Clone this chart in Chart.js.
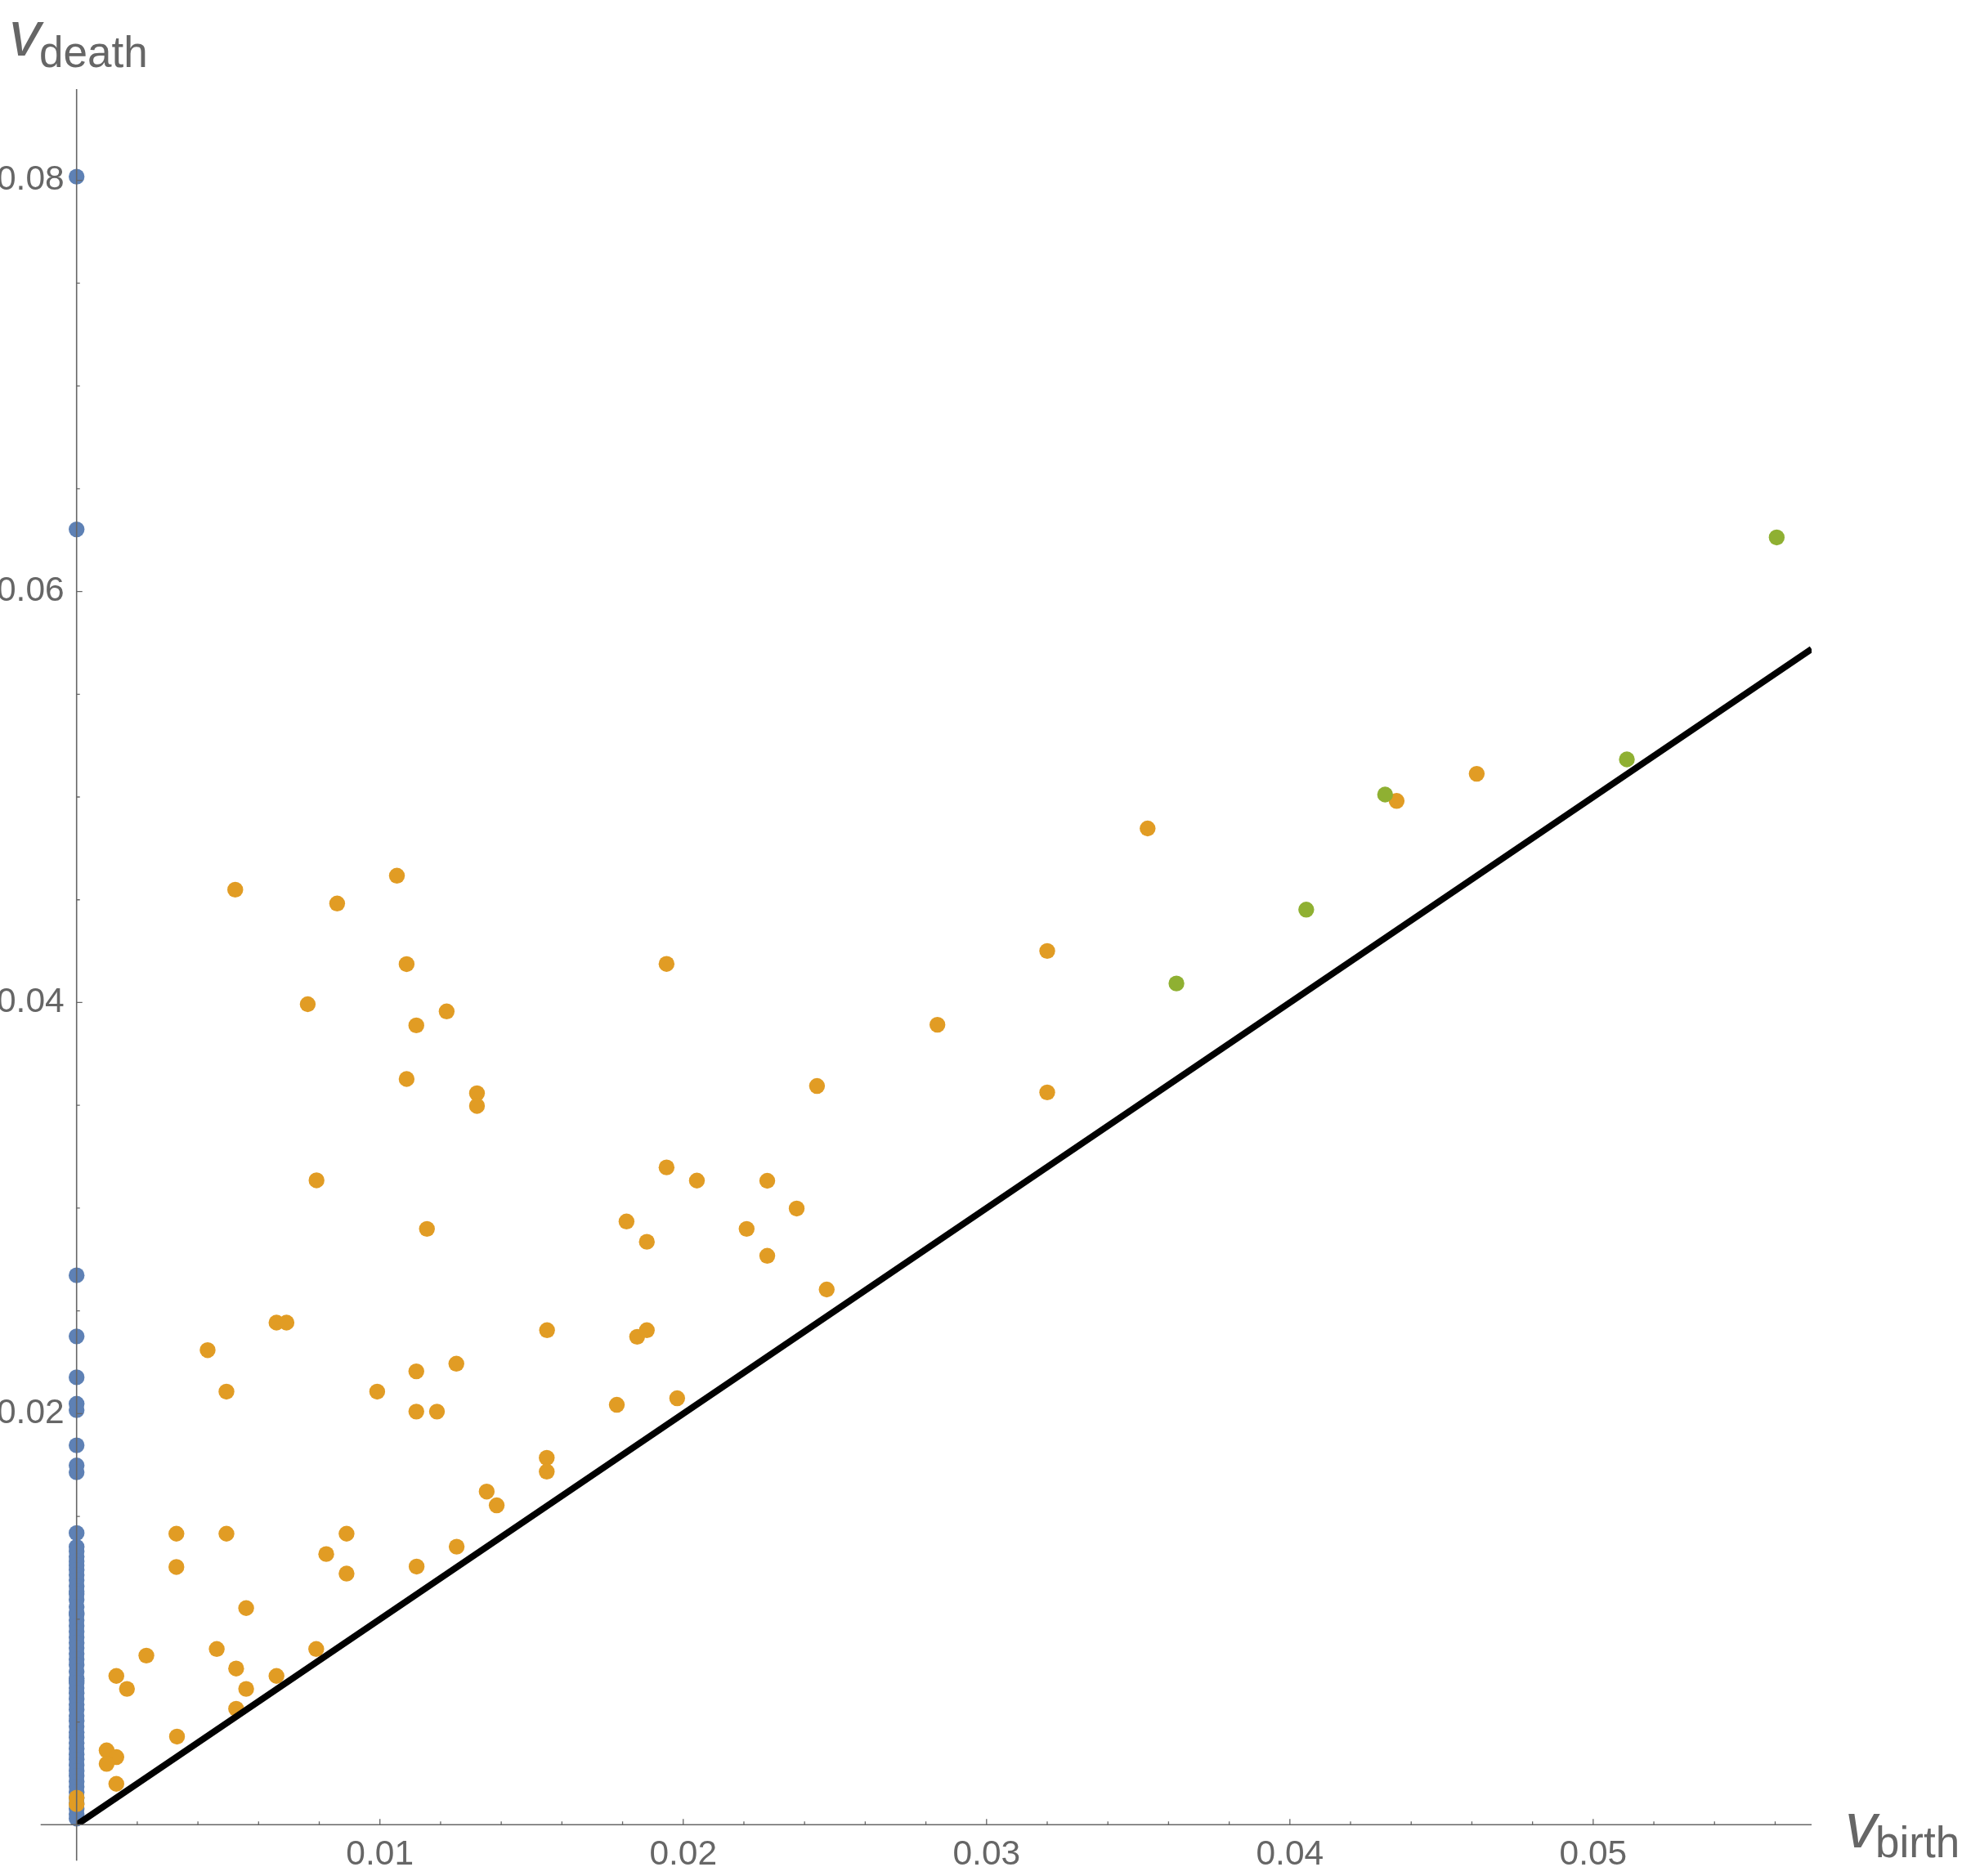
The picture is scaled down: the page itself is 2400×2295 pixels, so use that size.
<!DOCTYPE html>
<html>
<head>
<meta charset="utf-8">
<script src="https://cdn.jsdelivr.net/npm/chart.js@4/dist/chart.umd.min.js"></script>
<style>
  body { margin: 0; background: #fff; }
  #ctx { display: block; }
</style>
</head>
<body>
<canvas id="ctx" width="2400" height="2295"></canvas>
<script>

// persistence data (birth, death)

// dimension 0 : all born at 0
var blueY = [0.08018, 0.06302, 0.02673, 0.02376, 0.02177, 0.02048, 0.02017, 0.01846, 0.01748, 0.01715, 0.01419,
  0.01352, 0.01330, 0.01305, 0.01282, 0.01262, 0.01240, 0.01215, 0.01190, 0.01160, 0.01135, 0.01123, 0.01095,
  0.01060, 0.01030, 0.01022, 0.00995, 0.00968, 0.00940, 0.00912, 0.00885, 0.00860, 0.00832, 0.00805, 0.00778,
  0.00745, 0.00712, 0.00700, 0.00690, 0.00665, 0.00640, 0.00612, 0.00585, 0.00560, 0.00530, 0.00505, 0.00478,
  0.00450, 0.00425, 0.00398, 0.00370, 0.00342, 0.00318, 0.00290, 0.00262, 0.00238, 0.00210, 0.00185, 0.00158,
  0.00130, 0.00105, 0.00078, 0.00052, 0.00030];

// dimension 1
var orangeX = [0.00523, 0.00859, 0.01056, 0.01088, 0.00762, 0.01120, 0.01220, 0.01088, 0.01320, 0.01320,
  0.00791, 0.01155, 0.00659, 0.00692, 0.00432, 0.00494, 0.00991, 0.01120, 0.01252, 0.01120,
  0.01188, 0.00329, 0.00494, 0.00329, 0.00823, 0.00890, 0.00890, 0.00559, 0.01121, 0.01253,
  0.01352, 0.01385, 0.01550, 0.01550, 0.01551, 0.01781, 0.01980, 0.01848, 0.01880, 0.01813,
  0.01880, 0.01945, 0.02045, 0.02209, 0.02277, 0.02277, 0.02374, 0.02473, 0.02441, 0.01945,
  0.02838, 0.03200, 0.03200, 0.03531, 0.04352, 0.04616,
  0.00230, 0.00131, 0.00166, 0.00462, 0.00526, 0.00559, 0.00526, 0.00659, 0.00790, 0.00331,
  0.00099, 0.00131, 0.00099, 0.00131, 0, 0];
var orangeY = [0.04549, 0.04482, 0.04617, 0.04187, 0.03992, 0.03889, 0.03957, 0.03628, 0.03559, 0.03497,
  0.03135, 0.02899, 0.02443, 0.02443, 0.02309, 0.02107, 0.02107, 0.02206, 0.02243, 0.02010,
  0.02010, 0.01416, 0.01416, 0.01254, 0.01317, 0.01416, 0.01222, 0.01054, 0.01256, 0.01353,
  0.01621, 0.01554, 0.01785, 0.01718, 0.02406, 0.02043, 0.02075, 0.02374, 0.02406, 0.02935,
  0.02836, 0.03198, 0.03134, 0.02899, 0.03133, 0.02768, 0.02998, 0.02604, 0.03594, 0.04188,
  0.03892, 0.04251, 0.03563, 0.04847, 0.04981, 0.05113,
  0.00823, 0.00724, 0.00661, 0.00855, 0.00760, 0.00661, 0.00564, 0.00724, 0.00855, 0.00429,
  0.00362, 0.00329, 0.00296, 0.00199, 0.00132, 0.00100];

// dimension 2
var greenX = [0.03626, 0.04054, 0.04314, 0.05111, 0.05605];
var greenY = [0.04093, 0.04452, 0.05012, 0.05183, 0.06263];

// diagonal birth = death
var diagX = [0, 0.0572];
var diagY = [0, 0.0572];

var xTickVals = [0.01, 0.02, 0.03, 0.04, 0.05];
var yTickVals = [0.02, 0.04, 0.06, 0.08];

var labelGray = '#666666';

function pts(xs, ys) {
  var out = [];
  for (var i = 0; i < ys.length; i++) {
    out.push({ x: xs === null ? 0 : xs[i], y: ys[i] });
  }
  return out;
}

// axes through the origin, mathematica style (drawn over the points)
var mmaAxes = {
  id: 'mmaAxes',
  afterDatasetsDraw: function (chart) {
    var ctx = chart.ctx;
    var xs = chart.scales.x, ys = chart.scales.y;
    var x0 = xs.getPixelForValue(0), y0 = ys.getPixelForValue(0);
    var v, p;
    ctx.save();
    ctx.strokeStyle = labelGray;
    ctx.lineWidth = 1.6;
    ctx.beginPath();
    ctx.moveTo(x0 - 44, y0); ctx.lineTo(xs.right, y0);
    ctx.moveTo(x0, ys.top); ctx.lineTo(x0, y0 + 44);
    ctx.stroke();

    ctx.lineWidth = 1.3;
    ctx.beginPath();
    for (v = 1; v * 0.002 <= xs.max; v++) {
      p = xs.getPixelForValue(v * 0.002);
      ctx.moveTo(p, y0);
      ctx.lineTo(p, y0 - (v % 5 == 0 ? 7 : 4));
    }
    for (v = 1; v * 0.005 <= ys.max; v++) {
      p = ys.getPixelForValue(v * 0.005);
      ctx.moveTo(x0, p);
      ctx.lineTo(x0 + (v % 4 == 0 ? 7 : 4), p);
    }
    ctx.stroke();
    ctx.restore();
  },
  afterDraw: function (chart) {
    var ctx = chart.ctx;
    ctx.save();
    ctx.fillStyle = labelGray;
    ctx.textBaseline = 'alphabetic';
    ctx.textAlign = 'left';
    // v_death
    ctx.font = 'italic 78px "Liberation Sans", Arial, sans-serif';
    ctx.fillText('v', 11, 68);
    ctx.font = '53px "Liberation Sans", Arial, sans-serif';
    ctx.fillText('death', 48, 82);
    // v_birth
    ctx.font = 'italic 78px "Liberation Sans", Arial, sans-serif';
    ctx.fillText('v', 2257, 2260);
    ctx.font = '53px "Liberation Sans", Arial, sans-serif';
    ctx.fillText('birth', 2294, 2272);
    ctx.restore();
  }
};

var pdChart = new Chart(document.getElementById('ctx'), {
  type: 'scatter',
  data: {
    datasets: [{
      label: 'diagonal',
      data: pts(diagX, diagY),
      showLine: true,
      borderColor: '#000000',
      borderWidth: 8,
      pointRadius: 0,
      fill: false,
      order: 0
    }, {
      label: 'H2',
      data: pts(greenX, greenY),
      backgroundColor: '#8FB032',
      pointRadius: 9.7,
      pointBorderWidth: 0,
      clip: false,
      order: 1
    }, {
      label: 'H1',
      data: pts(orangeX, orangeY),
      backgroundColor: '#E19C24',
      pointRadius: 9.7,
      pointBorderWidth: 0,
      clip: false,
      order: 2
    }, {
      label: 'H0',
      data: pts(null, blueY),
      backgroundColor: '#5E81B5',
      pointRadius: 9.7,
      pointBorderWidth: 0,
      clip: false,
      order: 3
    }]
  },
  options: {
    responsive: false,
    animation: false,
    events: [],
    layout: { padding: { top: 109, right: 184, bottom: 0, left: 0 } },
    plugins: {
      legend: { display: false },
      tooltip: { enabled: false }
    },
    scales: {
      x: {
        type: 'linear',
        min: 0,
        max: 0.0572,
        grid: { display: false, drawTicks: false },
        border: { display: false },
        afterBuildTicks: function (s) { s.ticks = xTickVals.map(function (v) { return { value: v }; }); },
        afterFit: function (s) { s.height = 62.7; },
        ticks: {
          autoSkip: false,
          maxRotation: 0,
          padding: 11,
          color: labelGray,
          font: { family: '"Liberation Sans", Arial, sans-serif', size: 42.5 },
          callback: function (v) { return v.toFixed(2); }
        }
      },
      y: {
        type: 'linear',
        min: 0,
        max: 0.08444,
        grid: { display: false, drawTicks: false },
        border: { display: false },
        afterBuildTicks: function (s) { s.ticks = yTickVals.map(function (v) { return { value: v }; }); },
        afterFit: function (s) { s.width = 93.7; },
        ticks: {
          autoSkip: false,
          padding: 15,
          color: labelGray,
          font: { family: '"Liberation Sans", Arial, sans-serif', size: 42.5 },
          callback: function (v) { return v.toFixed(2); }
        }
      }
    }
  },
  plugins: [mmaAxes]
});

</script>
</body>
</html>
